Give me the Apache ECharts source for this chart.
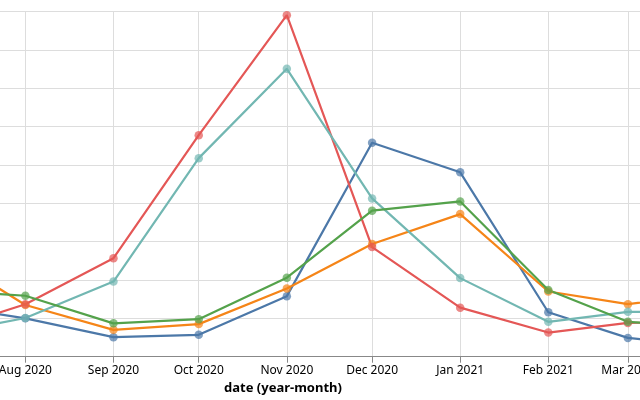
<!DOCTYPE html>
<html>
<head>
<meta charset="utf-8">
<script src="https://cdn.jsdelivr.net/npm/echarts@6/dist/echarts.min.js"></script>
<style>
html,body{margin:0;padding:0;background:#fff;}
#chart{width:640px;height:400px;}
</style>
</head>
<body>
<div id="chart"></div>
<script>
const months = ['2020-07-01','2020-08-01','2020-09-01','2020-10-01','2020-11-01','2020-12-01','2021-01-01','2021-02-01','2021-03-01','2021-04-01'];
const seriesNames = ['A','B','C','D','E'];
const blueVals   = [13.7, 10.0, 5.1, 5.7, 15.8, 55.8, 48.1, 11.6, 4.9, 2.8];
const orangeVals = [27.8, 13.5, 7.0, 8.5, 17.8, 29.4, 37.2, 17.0, 13.7, 16.8];
const redVals    = [6.3, 13.7, 25.7, 57.8, 89.1, 28.6, 12.8, 6.3, 8.8, 9.6];
const tealVals   = [5.7, 10.1, 19.6, 51.8, 75.1, 41.3, 20.5, 9.1, 11.7, 11.7];
const greenVals  = [17.4, 15.9, 8.7, 9.8, 20.6, 38.1, 40.5, 17.4, 9.1, 7.5];
const xDomain = ['2020-06-01', '2021-04-01'];
const axisTitle = 'date (year-month)';

const allVals = [blueVals, orangeVals, redVals, tealVals, greenVals];
const colors = ['#4c78a8', '#f58518', '#e45756', '#72b7b2', '#54a24b'];

const chart = echarts.init(document.getElementById('chart'));
chart.setOption({
  animation: false,
  backgroundColor: '#fff',
  grid: { left: -148, right: -76, top: 11.7, bottom: 43.3, containLabel: false, outerBoundsMode: 'none' },
  xAxis: {
    type: 'time',
    min: xDomain[0],
    max: xDomain[1],
    splitNumber: 10,
    minInterval: 28 * 86400000,
    axisLine: { lineStyle: { color: '#888', width: 1 } },
    axisTick: { show: true, length: 6, lineStyle: { color: '#888' } },
    splitLine: { show: true, lineStyle: { color: '#ddd', width: 1 } },
    axisLabel: {
      formatter: '{MMM} {yyyy}',
      color: '#000',
      fontSize: 12,
      fontFamily: 'Noto Sans',
      margin: 8,
      hideOverlap: false
    }
  },
  yAxis: {
    type: 'value',
    min: 0, max: 90, interval: 10,
    axisLine: { show: false },
    axisTick: { show: false },
    axisLabel: { show: false },
    splitLine: { show: true, lineStyle: { color: '#ddd', width: 1 } }
  },
  series: allVals.map((vals, i) => ({
    name: seriesNames[i],
    type: 'line',
    data: months.map((m, j) => [m, vals[j]]),
    symbol: 'circle',
    symbolSize: 8.5,
    showAllSymbol: true,
    lineStyle: { color: colors[i], width: 2.2 },
    itemStyle: { color: colors[i], opacity: 0.7 },
    clip: true
  })),
  graphic: [{
    type: 'text',
    x: 283,
    y: 388.5,
    style: {
      text: axisTitle,
      font: 'bold 13px "Noto Sans"',
      fill: '#000',
      align: 'center',
      verticalAlign: 'middle'
    }
  }]
});
</script>
</body>
</html>
